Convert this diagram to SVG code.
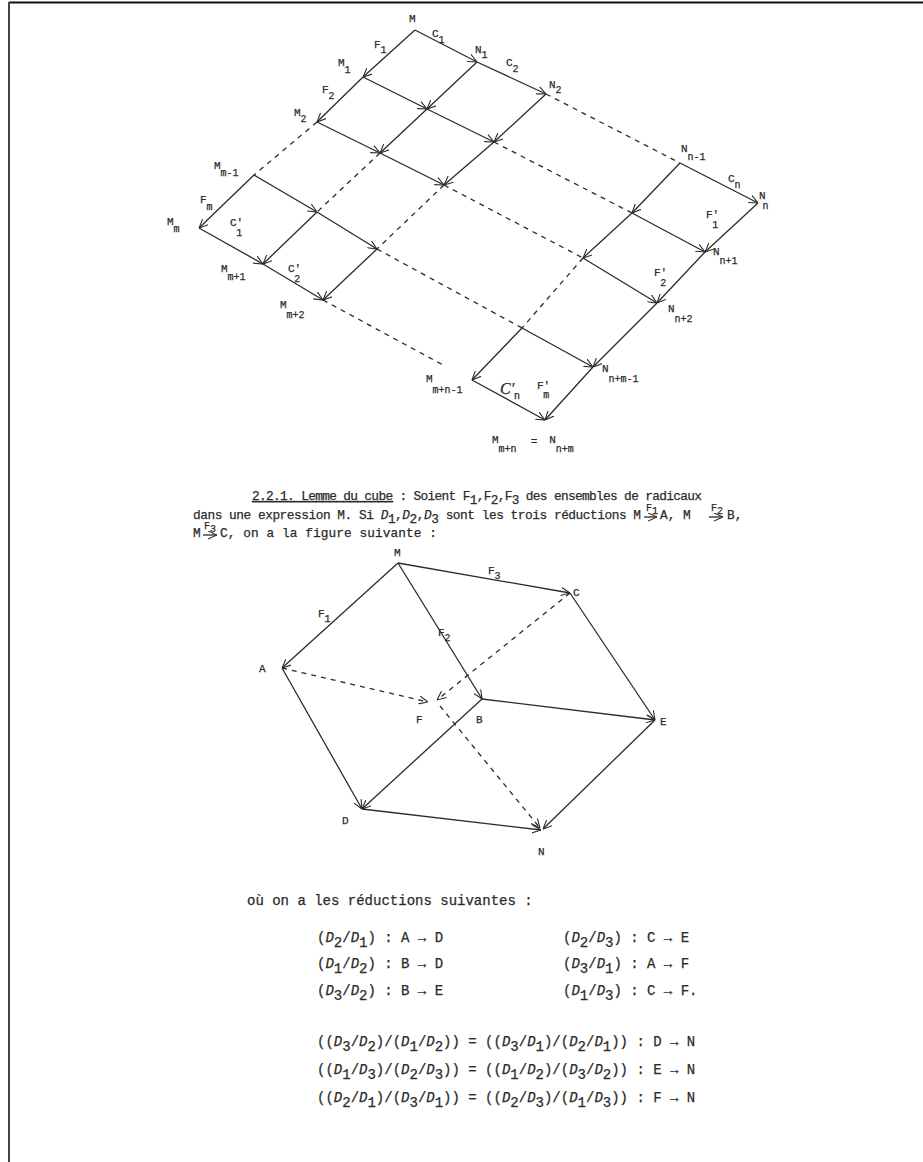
<svg xmlns="http://www.w3.org/2000/svg" width="923" height="1162" viewBox="0 0 923 1162">
<defs>
<marker id="ah" viewBox="0 0 10 10" refX="10" refY="5" markerWidth="9" markerHeight="9" orient="auto" markerUnits="userSpaceOnUse">
<path d="M0,0.5 L10,5 L0,9.5" fill="none" stroke="#2b2b2b" stroke-width="1.2"/>
</marker>
<style>
.ln{stroke:#2b2b2b;stroke-width:1.3;fill:none}
.ar{marker-end:url(#ah)}
.ds{stroke-dasharray:5 5}
.t{font-family:"Liberation Mono","DejaVu Sans Mono",monospace;fill:#2b2b2b;stroke:#2b2b2b;stroke-width:0.25}
.lb{font-size:11px}
.sb{font-size:10px}
.tx{font-size:12.8px}
.bg{font-size:14px}
.D{font-style:italic}
.cs{font-family:"Liberation Serif",serif;font-style:italic;font-size:16px}
</style>
</defs>
<rect width="923" height="1162" fill="#fff"/>
<g id="page-border">
<line x1="9" y1="2.5" x2="923" y2="2.5" stroke="#111" stroke-width="2"/>
<line x1="9" y1="2" x2="9" y2="1162" stroke="#444" stroke-width="2"/>
</g>

<g id="grid-connectors">
<line class="ln ar" x1="415" y1="30" x2="363" y2="77"/>
<line class="ln ar" x1="415" y1="30" x2="477" y2="62"/>
<line class="ln ar" x1="477" y1="62" x2="546" y2="94"/>
<line class="ln ar" x1="363" y1="77" x2="317" y2="122"/>
<line class="ln ar" x1="363" y1="77" x2="427" y2="109"/>
<line class="ln ar" x1="427" y1="109" x2="494" y2="142"/>
<line class="ln ar" x1="477" y1="62" x2="427" y2="109"/>
<line class="ln ar" x1="546" y1="94" x2="494" y2="142"/>
<line class="ln ar" x1="317" y1="122" x2="380" y2="153"/>
<line class="ln ar" x1="380" y1="153" x2="444" y2="185"/>
<line class="ln ar" x1="427" y1="109" x2="380" y2="153"/>
<line class="ln ar" x1="494" y1="142" x2="444" y2="185"/>
<line class="ln ar" x1="254" y1="175" x2="199" y2="228"/>
<line class="ln ar" x1="254" y1="175" x2="317" y2="212"/>
<line class="ln ar" x1="317" y1="212" x2="377" y2="249"/>
<line class="ln ar" x1="317" y1="212" x2="263" y2="264"/>
<line class="ln ar" x1="199" y1="228" x2="263" y2="264"/>
<line class="ln ar" x1="263" y1="264" x2="323" y2="300"/>
<line class="ln ar" x1="377" y1="249" x2="323" y2="300"/>
<line class="ln ar" x1="680" y1="163" x2="758" y2="203"/>
<line class="ln ar" x1="680" y1="163" x2="632" y2="213"/>
<line class="ln ar" x1="632" y1="213" x2="705" y2="252"/>
<line class="ln ar" x1="758" y1="203" x2="705" y2="252"/>
<line class="ln ar" x1="632" y1="213" x2="583" y2="258"/>
<line class="ln ar" x1="583" y1="258" x2="657" y2="303"/>
<line class="ln ar" x1="705" y1="252" x2="657" y2="303"/>
<line class="ln ar" x1="657" y1="303" x2="593" y2="367"/>
<line class="ln ar" x1="522" y1="328" x2="472" y2="380"/>
<line class="ln ar" x1="522" y1="328" x2="593" y2="367"/>
<line class="ln ar" x1="472" y1="380" x2="545" y2="420"/>
<line class="ln ar" x1="593" y1="367" x2="545" y2="420"/>
<line class="ln ds" x1="317" y1="122" x2="254" y2="175"/>
<line class="ln ds" x1="380" y1="153" x2="317" y2="212"/>
<line class="ln ds" x1="444" y1="185" x2="377" y2="249"/>
<line class="ln ds" x1="546" y1="94" x2="680" y2="163"/>
<line class="ln ds" x1="494" y1="142" x2="632" y2="213"/>
<line class="ln ds" x1="444" y1="185" x2="583" y2="258"/>
<line class="ln ds" x1="377" y1="249" x2="522" y2="328"/>
<line class="ln ds" x1="323" y1="300" x2="443" y2="365"/>
<line class="ln ds" x1="583" y1="258" x2="522" y2="328"/>
</g>

<g id="grid-labels" class="t lb">
<text id="lbl-M" x="409" y="22">M</text>
<text id="lbl-F1" x="374" y="48">F<tspan class="sb" dy="5">1</tspan></text>
<text id="lbl-C1" x="432" y="37">C<tspan class="sb" dy="6">1</tspan></text>
<text id="lbl-N1" x="475" y="53">N<tspan class="sb" dy="5">1</tspan></text>
<text id="lbl-C2" x="506" y="66">C<tspan class="sb" dy="6">2</tspan></text>
<text id="lbl-N2" x="549" y="88">N<tspan class="sb" dy="5">2</tspan></text>
<text id="lbl-M1" x="338" y="66">M<tspan class="sb" dy="7">1</tspan></text>
<text id="lbl-F2" x="322" y="93">F<tspan class="sb" dy="6">2</tspan></text>
<text id="lbl-M2" x="294" y="116">M<tspan class="sb" dy="6">2</tspan></text>
<text id="lbl-Mm-1" x="214" y="169">M<tspan class="sb" dy="7">m-1</tspan></text>
<text id="lbl-Fm" x="200" y="203">F<tspan class="sb" dy="7">m</tspan></text>
<text id="lbl-Mm" x="167" y="225">M<tspan class="sb" dy="7">m</tspan></text>
<text id="lbl-C1p" x="230" y="226">C'<tspan class="sb" dx="-7" dy="10">1</tspan></text>
<text id="lbl-Mm+1" x="221" y="272">M<tspan class="sb" dy="8">m+1</tspan></text>
<text id="lbl-C2p" x="288" y="272">C'<tspan class="sb" dx="-7" dy="10">2</tspan></text>
<text id="lbl-Mm+2" x="280" y="308">M<tspan class="sb" dy="10">m+2</tspan></text>
<text id="lbl-Mm+n-1" x="426" y="382">M<tspan class="sb" dy="11">m+n-1</tspan></text>
<text id="lbl-Nn-1" x="681" y="152">N<tspan class="sb" dy="8">n-1</tspan></text>
<text id="lbl-Cn" x="728" y="182">C<tspan class="sb" dy="6">n</tspan></text>
<text id="lbl-Nn" x="759" y="199">N<tspan class="sb" dx="-3" dy="10">n</tspan></text>
<text id="lbl-F1p" x="706" y="218">F'<tspan class="sb" dx="-7" dy="10">1</tspan></text>
<text id="lbl-Nn+1" x="713" y="255">N<tspan class="sb" dy="9">n+1</tspan></text>
<text id="lbl-F2p" x="654" y="276">F'<tspan class="sb" dx="-7" dy="10">2</tspan></text>
<text id="lbl-Nn+2" x="668" y="312">N<tspan class="sb" dy="10">n+2</tspan></text>
<text id="lbl-Nn+m-1" x="602" y="372">N<tspan class="sb" dy="10">n+m-1</tspan></text>
<text id="lbl-Cnp" x="500" y="394"><tspan class="cs">C'</tspan><tspan class="sb" dy="5">n</tspan></text>
<text id="lbl-Fmp" x="537" y="389">F'<tspan class="sb" dx="-7" dy="9">m</tspan></text>
<text id="lbl-eq" x="492" y="443">M<tspan class="sb" dy="9">m+n</tspan><tspan dx="14" dy="-7">=</tspan><tspan dx="12" dy="-2">N</tspan><tspan class="sb" dy="9">n+m</tspan></text>
</g>

<g id="lemma-text" class="t tx">
<text x="252" y="500" textLength="450" lengthAdjust="spacing"><tspan style="text-decoration:underline">2.2.1. Lemme du cube</tspan> : Soient F<tspan dy="4">1</tspan><tspan dy="-4">,F</tspan><tspan dy="4">2</tspan><tspan dy="-4">,F</tspan><tspan dy="4">3</tspan><tspan dy="-4"> des ensembles de radicaux</tspan></text>
<text x="193" y="519" textLength="448" lengthAdjust="spacing">dans une expression M. Si <tspan class="D">D</tspan><tspan dy="4">1</tspan><tspan dy="-4">,</tspan><tspan class="D">D</tspan><tspan dy="4">2</tspan><tspan dy="-4">,</tspan><tspan class="D">D</tspan><tspan dy="4">3</tspan><tspan dy="-4"> sont les trois réductions M</tspan></text>
<text x="646" y="511" class="sb">F<tspan dy="3">1</tspan></text>
<text x="660" y="519">A, M</text>
<text x="711" y="511" class="sb">F<tspan dy="3">2</tspan></text>
<text x="727" y="519">B,</text>
<text x="193" y="537">M</text>
<text x="204" y="529" class="sb">F<tspan dy="3">3</tspan></text>
<text x="220" y="537" textLength="217" lengthAdjust="spacing">C, on a la figure suivante :</text>
</g>
<g id="lemma-arrows">
<line class="ln ar" x1="644" y1="517" x2="657" y2="517" stroke-width="1"/>
<line class="ln ar" x1="709" y1="517" x2="723" y2="517" stroke-width="1"/>
<line class="ln ar" x1="203" y1="535" x2="217" y2="535" stroke-width="1"/>
</g>

<g id="cube-connectors">
<line class="ln ar" x1="398" y1="563" x2="282" y2="668"/>
<line class="ln ar" x1="398" y1="563" x2="570" y2="593"/>
<line class="ln ar" x1="398" y1="563" x2="482" y2="699"/>
<line class="ln ar" x1="282" y1="668" x2="362" y2="809"/>
<line class="ln ar" x1="482" y1="699" x2="362" y2="809"/>
<line class="ln ar" x1="482" y1="699" x2="655" y2="720"/>
<line class="ln ar" x1="570" y1="593" x2="655" y2="720"/>
<line class="ln ar" x1="362" y1="809" x2="541" y2="830"/>
<line class="ln ar" x1="655" y1="720" x2="543" y2="829"/>
<line class="ln ar ds" x1="282" y1="668" x2="428" y2="702"/>
<line class="ln ar ds" x1="570" y1="593" x2="437" y2="700"/>
<line class="ln ar ds" x1="440" y1="706" x2="540" y2="828"/>
</g>
<g id="cube-labels" class="t lb">
<text id="c-M" x="394" y="556">M</text>
<text id="c-F1" x="318" y="617">F<tspan class="sb" dy="5">1</tspan></text>
<text id="c-F2" x="438" y="636">F<tspan class="sb" dy="5">2</tspan></text>
<text id="c-F3" x="488" y="574">F<tspan class="sb" dy="5">3</tspan></text>
<text id="c-C" x="573" y="596">C</text>
<text id="c-A" x="259" y="672">A</text>
<text id="c-F" x="416" y="723">F</text>
<text id="c-B" x="476" y="723">B</text>
<text id="c-E" x="660" y="725">E</text>
<text id="c-D" x="342" y="824">D</text>
<text id="c-N" x="538" y="855">N</text>
</g>

<g id="reductions" class="t bg">
<text x="247" y="905">où on a les réductions suivantes :</text>
<text x="317" y="942">(<tspan class="D">D</tspan><tspan dy="5">2</tspan><tspan dy="-5">/</tspan><tspan class="D">D</tspan><tspan dy="5">1</tspan><tspan dy="-5">) : A → D</tspan></text>
<text x="317" y="968">(<tspan class="D">D</tspan><tspan dy="5">1</tspan><tspan dy="-5">/</tspan><tspan class="D">D</tspan><tspan dy="5">2</tspan><tspan dy="-5">) : B → D</tspan></text>
<text x="317" y="995">(<tspan class="D">D</tspan><tspan dy="5">3</tspan><tspan dy="-5">/</tspan><tspan class="D">D</tspan><tspan dy="5">2</tspan><tspan dy="-5">) : B → E</tspan></text>
<text x="563" y="942">(<tspan class="D">D</tspan><tspan dy="5">2</tspan><tspan dy="-5">/</tspan><tspan class="D">D</tspan><tspan dy="5">3</tspan><tspan dy="-5">) : C → E</tspan></text>
<text x="563" y="968">(<tspan class="D">D</tspan><tspan dy="5">3</tspan><tspan dy="-5">/</tspan><tspan class="D">D</tspan><tspan dy="5">1</tspan><tspan dy="-5">) : A → F</tspan></text>
<text x="563" y="995">(<tspan class="D">D</tspan><tspan dy="5">1</tspan><tspan dy="-5">/</tspan><tspan class="D">D</tspan><tspan dy="5">3</tspan><tspan dy="-5">) : C → F.</tspan></text>
<text x="317" y="1046">((<tspan class="D">D</tspan><tspan dy="5">3</tspan><tspan dy="-5">/</tspan><tspan class="D">D</tspan><tspan dy="5">2</tspan><tspan dy="-5">)/(</tspan><tspan class="D">D</tspan><tspan dy="5">1</tspan><tspan dy="-5">/</tspan><tspan class="D">D</tspan><tspan dy="5">2</tspan><tspan dy="-5">)) = ((</tspan><tspan class="D">D</tspan><tspan dy="5">3</tspan><tspan dy="-5">/</tspan><tspan class="D">D</tspan><tspan dy="5">1</tspan><tspan dy="-5">)/(</tspan><tspan class="D">D</tspan><tspan dy="5">2</tspan><tspan dy="-5">/</tspan><tspan class="D">D</tspan><tspan dy="5">1</tspan><tspan dy="-5">)) : D → N</tspan></text>
<text x="317" y="1074">((<tspan class="D">D</tspan><tspan dy="5">1</tspan><tspan dy="-5">/</tspan><tspan class="D">D</tspan><tspan dy="5">3</tspan><tspan dy="-5">)/(</tspan><tspan class="D">D</tspan><tspan dy="5">2</tspan><tspan dy="-5">/</tspan><tspan class="D">D</tspan><tspan dy="5">3</tspan><tspan dy="-5">)) = ((</tspan><tspan class="D">D</tspan><tspan dy="5">1</tspan><tspan dy="-5">/</tspan><tspan class="D">D</tspan><tspan dy="5">2</tspan><tspan dy="-5">)/(</tspan><tspan class="D">D</tspan><tspan dy="5">3</tspan><tspan dy="-5">/</tspan><tspan class="D">D</tspan><tspan dy="5">2</tspan><tspan dy="-5">)) : E → N</tspan></text>
<text x="317" y="1102">((<tspan class="D">D</tspan><tspan dy="5">2</tspan><tspan dy="-5">/</tspan><tspan class="D">D</tspan><tspan dy="5">1</tspan><tspan dy="-5">)/(</tspan><tspan class="D">D</tspan><tspan dy="5">3</tspan><tspan dy="-5">/</tspan><tspan class="D">D</tspan><tspan dy="5">1</tspan><tspan dy="-5">)) = ((</tspan><tspan class="D">D</tspan><tspan dy="5">2</tspan><tspan dy="-5">/</tspan><tspan class="D">D</tspan><tspan dy="5">3</tspan><tspan dy="-5">)/(</tspan><tspan class="D">D</tspan><tspan dy="5">1</tspan><tspan dy="-5">/</tspan><tspan class="D">D</tspan><tspan dy="5">3</tspan><tspan dy="-5">)) : F → N</tspan></text>
</g>
</svg>
